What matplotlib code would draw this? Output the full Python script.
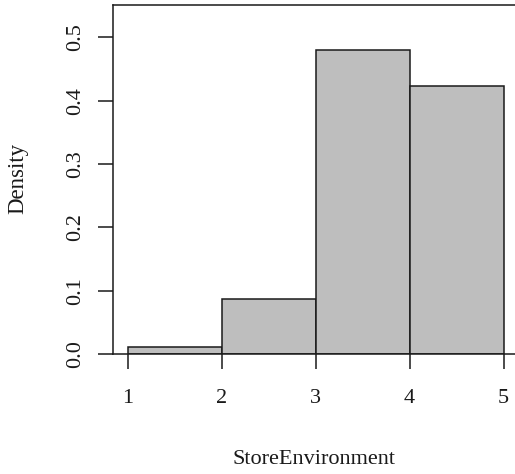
import matplotlib
matplotlib.use("Agg")
import matplotlib.pyplot as plt

bin_edges = [1, 2, 3, 4, 5]
densities = [0.0115, 0.087, 0.480, 0.424]
x_ticks = [1, 2, 3, 4, 5]
y_ticks = [0.0, 0.1, 0.2, 0.3, 0.4, 0.5]
x_label = "StoreEnvironment"
y_label = "Density"

plt.rcParams['font.family'] = ['Liberation Serif', 'DejaVu Serif']

W, H = 515, 474
fig = plt.figure(figsize=(W / 100, H / 100), dpi=100)
px_per_x = 94.0
xlim = (0.84, 5.16)
left_px = 127.6 - (1 - xlim[0]) * px_per_x
width_px = (xlim[1] - xlim[0]) * px_per_x
ax = fig.add_axes([left_px / W, (H - 354) / H, width_px / W, (354 - 5) / H])

widths = [bin_edges[i + 1] - bin_edges[i] for i in range(len(densities))]
ax.bar(bin_edges[:-1], densities, width=widths, align='edge',
       color='#bebebe', edgecolor='#1a1a1a', linewidth=1.1)

ax.set_xlim(*xlim)
ax.set_ylim(0, 0.5513)
ax.set_xticks(x_ticks)
ax.set_xticklabels([str(v) for v in x_ticks])
ax.set_yticks(y_ticks)
ax.set_yticklabels([f"{v:.1f}" for v in y_ticks], rotation=90, va='center')

for s in ['left', 'top', 'bottom']:
    ax.spines[s].set_linewidth(1.1)
    ax.spines[s].set_color('#1a1a1a')
ax.spines['right'].set_visible(False)

ax.tick_params(axis='both', length=10.5, width=1.1, color='#1a1a1a',
               labelsize=16, labelcolor='#1a1a1a')
ax.tick_params(axis='x', pad=14.5)
ax.tick_params(axis='y', pad=9)

fig.text(313.5 / W, 1 - 460 / H, x_label, ha='center', va='center',
         fontsize=16, color='#1a1a1a')
fig.text(18 / W, 1 - 178 / H, y_label, ha='center', va='center',
         rotation=90, fontsize=16.5, color='#1a1a1a')

fig.savefig("out.png", dpi=100)
